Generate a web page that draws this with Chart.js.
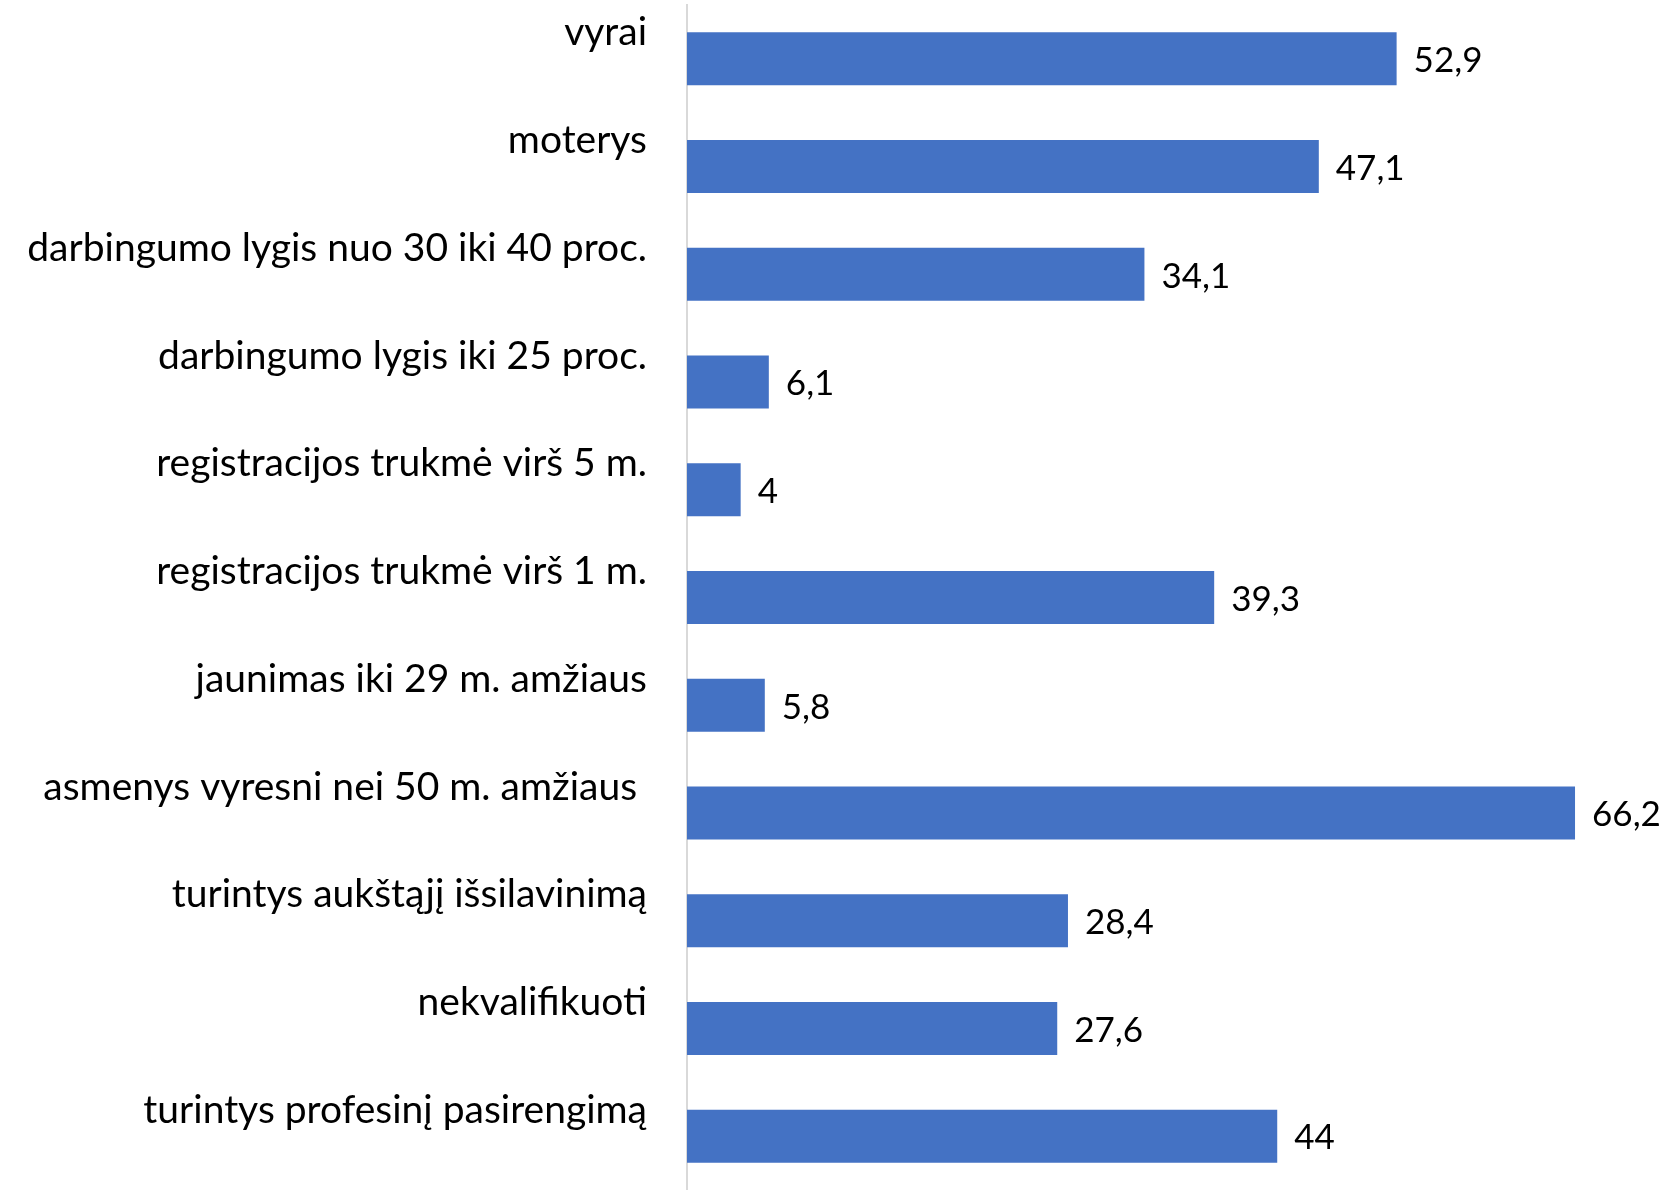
<!DOCTYPE html>
<html>
<head>
<meta charset="utf-8">
<script src="https://cdn.jsdelivr.net/npm/chart.js@4/dist/chart.umd.min.js"></script>
<style>
  html, body { margin: 0; padding: 0; background: #fff; }
  #wrap { width: 1666px; height: 1190px; position: relative; }
</style>
</head>
<body>
<div id="wrap"><canvas id="c"></canvas></div>
<script>
const categories = [
  "vyrai",
  "moterys",
  "darbingumo lygis nuo 30 iki 40 proc.",
  "darbingumo lygis iki 25 proc.",
  "registracijos trukmė virš 5 m.",
  "registracijos trukmė virš 1 m.",
  "jaunimas iki 29 m. amžiaus",
  "asmenys vyresni nei 50 m. amžiaus ",
  "turintys aukštąjį išsilavinimą",
  "nekvalifikuoti",
  "turintys profesinį pasirengimą"
];
const values = [52.9, 47.1, 34.1, 6.1, 4, 39.3, 5.8, 66.2, 28.4, 27.6, 44];

const FONT = "Lato, 'Open Sans', sans-serif";
const FONT_SIZE = 39;
const VALUE_FONT_SIZE = 35;

const valueLabels = {
  id: 'valueLabels',
  afterDatasetsDraw(chart) {
    const ctx = chart.ctx;
    const meta = chart.getDatasetMeta(0);
    ctx.save();
    ctx.font = VALUE_FONT_SIZE + "px " + FONT;
    ctx.fillStyle = "#000";
    ctx.textAlign = "left";
    ctx.textBaseline = "middle";
    meta.data.forEach((el, i) => {
      const txt = String(values[i]).replace('.', ',');
      ctx.fillText(txt, el.x + 17, el.y + 2);
    });
    ctx.restore();
  }
};

new Chart(document.getElementById('c'), {
  type: 'bar',
  data: {
    labels: categories,
    datasets: [{
      data: values,
      backgroundColor: '#4472C4',
      borderWidth: 0,
      barPercentage: 0.492,
      categoryPercentage: 1.0
    }]
  },
  options: {
    indexAxis: 'y',
    responsive: true,
    maintainAspectRatio: false,
    animation: false,
    layout: { padding: { top: 5, right: 40, bottom: 0, left: 0 } },
    plugins: {
      legend: { display: false },
      tooltip: { enabled: false }
    },
    scales: {
      x: {
        display: false,
        min: 0,
        max: 70
      },
      y: {
        grid: { display: false },
        border: { display: true, color: '#D9D9D9', width: 2 },
        ticks: {
          color: '#000',
          font: { family: FONT, size: FONT_SIZE },
          padding: 32,
          labelOffset: -26,
          autoSkip: false
        },
        afterFit(scale) {
          scale.width = 687;
          scale.paddingTop = 0;
          scale.paddingBottom = 0;
        }
      }
    }
  },
  plugins: [valueLabels]
});
</script>
</body>
</html>
